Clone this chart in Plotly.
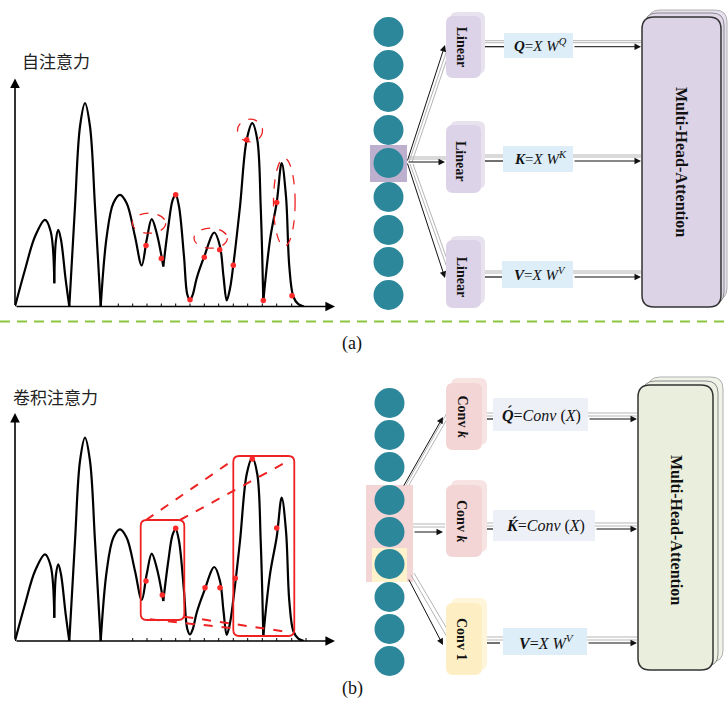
import plotly.graph_objects as go

# ---------------- curve data (shared by both panels) ----------------
# segments separated by None (cusps between them)
curve_x = [0, 10, 20, 30, 35.7, 39.3, None,
           39.3, 41, 43.3, 46, 50.7, 54.3, None,
           54.3, 60, 65, 70, 75, 80, 85.7, None,
           85.7, 91.7, 98.3, 105, 111.7, 120, 126.7, 131.7, 136.7, 141.7, 148.3, None,
           148.3, 153.3, 157.7, 160.7, 164, 169, 172.3, 175, 177.7, 181.7, 189, 199.3, 205,
           208.5, 211.7, 215, 218.3, 225, 231.7, 237.3, 242.3, 245.7, 248.3, None,
           248.3, 255, 261.7, 266.7, 271, 274.3, 278.3, 283.3, 289]
curve_y = [0, 36.7, 70, 86.7, 75, 23.3, None,
           23.3, 66.7, 76.7, 66.7, 26.7, 0, None,
           0, 100, 180, 203.3, 180, 100, 0, None,
           0, 70, 103.3, 111.7, 103.3, 70, 41, 66.7, 87.3, 73.3, 40, None,
           40, 80, 106.7, 111.7, 100, 50, 12, 6.5, 11.7, 28.3, 49.3, 74, 60,
           30, 6, 18, 41.3, 100, 166.7, 183.3, 166.7, 100, 5, None,
           5, 66.7, 104, 143.3, 110, 40, 10, 2.3, 0]

ticks_a = [103.3, 117.7, 132, 146.3, 160.7, 175, 189.3, 203.7, 218.3, 232.7, 247.3, 261.7, 276.7]
ticks_b = [117.7, 132, 146.3, 160.7, 175, 189.3, 203.7, 218.3, 232.7, 247.3, 261.7, 276.7, 291]

dots_a_x = [131, 146.3, 160.7, 175, 189.3, 204.7, 218.3, 231.7, 248.3, 261.7, 277]
dots_a_y = [61, 48, 111.7, 6.7, 49.3, 56.7, 41.3, 166.7, 6, 104, 10.7]

dots_b_x = [131, 147.3, 160.7, 190, 205, 220.3, 237.3, 261.7]
dots_b_y = [60, 46, 112.7, 53.3, 53.3, 62.7, 182, 113]

# dashed ellipses (panel a): centre x, centre y, radius x, radius y
ell_cx = [134, 195.7, 235, 269.3]
ell_cy = [83.3, 68.3, 176, 104.3]
ell_rx = [16.7, 16.7, 12.5, 10.8]
ell_ry = [10, 10, 11.3, 44.2]

# focus windows (panel b): x0, x1, y0, y1
win_x0 = [125.7, 218.3]
win_x1 = [169.3, 279.3]
win_y0 = [21, 5]
win_y1 = [121, 185]

# connector dashed lines (panel b)
link_x0 = [131, 165, 135, 169.3]
link_y0 = [121, 121, 21.7, 24.3]
link_x1 = [218.3, 275, 218.3, 275]
link_y1 = [181, 181, 12.7, 8.7]

AX_X = 320
AX_Y = 228

# ---------------- diagram labels ----------------
title_a = "自注意力"
title_b = "卷积注意力"
lin_label = "<b>Linear</b>"
mha_label = "<b>Multi-Head-Attention</b>"
formula_a = ["<b><i>Q</i></b>=<i>X W</i><sup><i>Q</i></sup>",
             "<b><i>K</i></b>=<i>X W</i><sup><i>K</i></sup>",
             "<b><i>V</i></b>=<i>X W</i><sup><i>V</i></sup>"]
formula_b = ["<b><i>Q\u0301</i></b>=<i>Conv</i> (<i>X</i>)",
             "<b><i>K\u0301</i></b>=<i>Conv</i> (<i>X</i>)",
             "<b><i>V</i></b>=<i>X W</i><sup><i>V</i></sup>"]
conv_labels = ["<b>Conv <i>k</i></b>", "<b>Conv <i>k</i></b>", "<b>Conv 1</b>"]

SERIF = "Liberation Serif"
CJK = "Noto Sans CJK SC"
TEAL = "#2b8799"

fig = go.Figure()
shapes = []
annos = []


def rrect(x0, y0, x1, y1, r):
    return (f"M{x0+r},{y0} L{x1-r},{y0} Q{x1},{y0} {x1},{y0+r} L{x1},{y1-r} "
            f"Q{x1},{y1} {x1-r},{y1} L{x0+r},{y1} Q{x0},{y1} {x0},{y1-r} "
            f"L{x0},{y0+r} Q{x0},{y0} {x0+r},{y0} Z")


def pbox(x0, y0, x1, y1, r, fill, line="rgba(0,0,0,0)", lw=0):
    shapes.append(dict(type="path", path=rrect(x0, y0, x1, y1, r), xref="x", yref="y",
                       fillcolor=fill, line=dict(color=line, width=lw), layer="above"))


def prect(x0, y0, x1, y1, fill):
    shapes.append(dict(type="rect", x0=x0, y0=y0, x1=x1, y1=y1, xref="x", yref="y",
                       fillcolor=fill, line=dict(width=0), layer="above"))


def pline(x0, y0, x1, y1, color="#b5b5b5", w=1):
    shapes.append(dict(type="line", x0=x0, y0=y0, x1=x1, y1=y1, xref="x", yref="y",
                       line=dict(color=color, width=w), layer="above"))


def parrow(x0, y0, x1, y1):
    annos.append(dict(x=x1, y=y1, ax=x0, ay=y0, xref="x", yref="y", axref="x", ayref="y",
                      text="", showarrow=True, arrowhead=2, arrowsize=1.3, arrowwidth=1,
                      arrowcolor="#111", standoff=0, startstandoff=0))


def ptext(x, y, txt, size, angle=0, family=SERIF, color="#111"):
    annos.append(dict(x=x, y=y, xref="x", yref="y", text=txt, showarrow=False,
                      textangle=angle, font=dict(family=family, size=size, color=color),
                      xanchor="center", yanchor="middle"))


# ---------------- curve panels ----------------
for idx, (xa, ya, ticks, dx, dy) in enumerate([("x2", "y2", ticks_a, dots_a_x, dots_a_y),
                                               ("x3", "y3", ticks_b, dots_b_x, dots_b_y)]):
    fig.add_trace(go.Scatter(x=curve_x, y=curve_y, mode="lines", xaxis=xa, yaxis=ya,
                             line=dict(color="black", width=2.2, shape="spline", smoothing=1.0),
                             connectgaps=False, hoverinfo="skip", showlegend=False))
    tx, ty = [], []
    for t in ticks:
        tx += [t, t, None]
        ty += [0, 3, None]
    fig.add_trace(go.Scatter(x=tx, y=ty, mode="lines", xaxis=xa, yaxis=ya,
                             line=dict(color="black", width=1), hoverinfo="skip", showlegend=False))
    fig.add_trace(go.Scatter(x=dx, y=dy, mode="markers", xaxis=xa, yaxis=ya,
                             marker=dict(color="#ff2a2a", size=5.5), hoverinfo="skip", showlegend=False))
    # axes with arrows
    for (hx, hy) in [(AX_X, 0), (0, AX_Y)]:
        annos.append(dict(x=hx, y=hy, ax=0, ay=0, xref=xa, yref=ya, axref=xa, ayref=ya,
                          text="", showarrow=True, arrowhead=2, arrowsize=1.2, arrowwidth=1.6,
                          arrowcolor="black", standoff=0))

for cx, cy, rx, ry in zip(ell_cx, ell_cy, ell_rx, ell_ry):
    shapes.append(dict(type="circle", xref="x2", yref="y2", x0=cx - rx, x1=cx + rx,
                       y0=cy - ry, y1=cy + ry, line=dict(color="#ee2222", width=1.3, dash="dash")))

for x0, x1, y0, y1 in zip(win_x0, win_x1, win_y0, win_y1):
    shapes.append(dict(type="path", xref="x3", yref="y3", path=rrect(x0, y0, x1, y1, 6),
                       line=dict(color="#ee2222", width=1.8)))
for x0, y0, x1, y1 in zip(link_x0, link_y0, link_x1, link_y1):
    shapes.append(dict(type="line", xref="x3", yref="y3", x0=x0, y0=y0, x1=x1, y1=y1,
                       line=dict(color="#ee2222", width=2, dash="dash")))

# titles
ptext(56, 60, title_a, 17, family=CJK, color="#222")
ptext(55, 396, title_b, 17, family=CJK, color="#222")

# separator and panel labels
pline(0, 321.5, 728, 321.5, color="#8cc63f", w=2.2)
shapes[-1]["line"]["dash"] = "10px,7px"
ptext(352, 343, "(a)", 18)
ptext(352, 688, "(b)", 18)

# ---------------- panel (a) diagram ----------------
circ_y_a = [32, 65, 97, 130, 163, 197, 230, 262, 295]
circ_y_b = [403, 435, 467, 500, 532, 564, 597, 629, 661]

prect(370, 145, 407, 182, "#bdb0cf")
for cy in circ_y_a:
    shapes.append(dict(type="circle", xref="x", yref="y", x0=373.5, x1=403.5, y0=cy - 15, y1=cy + 15,
                       fillcolor=TEAL, line=dict(width=0), layer="above"))

# gray companion lines (a)
for (x0, y0, x1, y1) in [(409, 162, 449, 44), (412, 162, 452, 44),
                         (409, 159, 446, 159), (409, 157, 446, 157),
                         (410, 164, 450, 276), (413, 164, 453, 276)]:
    pline(x0, y0, x1, y1)
lin_y = [(16, 78), (125, 193), (240, 308)]
row_a = [46.7, 161, 277]
for (yt, yb), ry in zip(lin_y, row_a):
    pline(478, ry - 6, 641, ry - 6)
    pline(478, ry - 4, 641, ry - 4)
    pline(478, ry, 504, ry, color="#111", w=1.2)

for (yt, yb) in lin_y:
    pbox(450, yt - 4, 485, yb - 4, 7, "#e8e2ef")
    pbox(446, yt, 481, yb, 7, "#dcd3e8")
for (yt, yb), tx in zip(lin_y, [46.7, 161, 276.7]):
    ptext(461, tx, lin_label, 14, angle=90)

fa_boxes = [(504, 33, 573, 58), (503, 146, 573, 172), (502, 261, 573, 288)]
for (x0, y0, x1, y1), f in zip(fa_boxes, formula_a):
    prect(x0, y0, x1, y1, "#ddeef9")
    ptext((x0 + x1) / 2 + 2, (y0 + y1) / 2 - 1, f, 15)

for ry in row_a:
    parrow(573, ry, 641, ry)
parrow(407, 162, 445, 45)
parrow(407, 162, 445, 162)
parrow(407, 162, 445, 278)

# MHA (a)
pbox(648, 10, 727, 300, 12, "#e6dfee", "#b0b0b0", 1)
pbox(645, 13, 724, 304, 12, "#e1d9ea", "#8a8a8a", 1)
pbox(642, 17, 721, 307, 12, "#dcd3e6", "#333333", 1.5)
ptext(682, 162, mha_label, 16, angle=90)

# ---------------- panel (b) diagram ----------------
prect(366, 485, 413, 582, "#f3d5d5")
prect(372, 548, 407, 582, "#fdf2cc")
for cy in circ_y_b:
    shapes.append(dict(type="circle", xref="x", yref="y", x0=374.5, x1=404.5, y0=cy - 15, y1=cy + 15,
                       fillcolor=TEAL, line=dict(width=0), layer="above"))

for (x0, y0, x1, y1) in [(406, 485, 447, 413), (409, 485, 450, 414),
                         (413, 524, 445, 524), (413, 527, 445, 527),
                         (411, 575, 447, 637), (414, 573, 450, 634)]:
    pline(x0, y0, x1, y1)
row_b = [419, 529, 643]
for ry in row_b:
    pline(478, ry - 6, 637, ry - 6)
    pline(478, ry - 3, 637, ry - 3)
    pline(478, ry, 500, ry, color="#111", w=1.2)

conv_y = [(383, 450), (485, 557), (603, 675)]
conv_fill = [("#f8e3e3", "#f4d5d5"), ("#f8e3e3", "#f4d5d5"), ("#fef5da", "#fdefc3")]
for (yt, yb), (f0, f1) in zip(conv_y, conv_fill):
    pbox(451, yt - 5, 487, yb - 5, 7, f0)
    pbox(446, yt, 482, yb, 7, f1)
for (yt, yb), lab in zip(conv_y, conv_labels):
    ptext(462, (yt + yb) / 2, lab, 14, angle=90)

fb_boxes = [(493, 398, 588, 431), (493, 510, 595, 541), (503, 628, 587, 655)]
fb_fill = ["#eef0f8", "#eef0f8", "#ddeef9"]
for (x0, y0, x1, y1), f, c in zip(fb_boxes, formula_b, fb_fill):
    prect(x0, y0, x1, y1, c)
    ptext((x0 + x1) / 2 + 1, (y0 + y1) / 2, f, 16)

parrow(588, 419, 637, 419)
parrow(595, 529, 637, 529)
parrow(587, 643, 637, 643)
parrow(403, 487, 443, 417)
parrow(413, 532, 443, 532)
parrow(408, 578, 443, 645)

pbox(648, 377, 723, 662, 12, "#f0f4e8", "#b0b0b0", 1)
pbox(643, 381, 718, 666, 12, "#ecf1e3", "#8a8a8a", 1)
pbox(638, 385, 713, 670, 12, "#e9efdc", "#333333", 1.5)
ptext(677, 530, mha_label, 16, angle=90)

# ---------------- layout ----------------
W, H = 728, 705
ax_hidden = dict(visible=False, fixedrange=True, showgrid=False, zeroline=False)
fig.update_layout(
    width=W, height=H, margin=dict(l=0, r=0, t=0, b=0),
    paper_bgcolor="white", plot_bgcolor="rgba(0,0,0,0)", showlegend=False,
    xaxis=dict(range=[0, W], domain=[0, 1], anchor="y", **ax_hidden),
    yaxis=dict(range=[H, 0], domain=[0, 1], anchor="x", **ax_hidden),
    xaxis2=dict(range=[0, AX_X], domain=[15 / W, 335 / W], anchor="y2", **ax_hidden),
    yaxis2=dict(range=[0, AX_Y], domain=[(H - 306.5) / H, (H - 78.5) / H], anchor="x2", **ax_hidden),
    xaxis3=dict(range=[0, AX_X], domain=[15 / W, 335 / W], anchor="y3", **ax_hidden),
    yaxis3=dict(range=[0, AX_Y], domain=[(H - 641) / H, (H - 413) / H], anchor="x3", **ax_hidden),
    shapes=shapes, annotations=annos,
)
fig.write_html("out.html", config={"displayModeBar": False},
               post_script="document.body.style.margin='0';document.body.style.overflow='hidden';")
